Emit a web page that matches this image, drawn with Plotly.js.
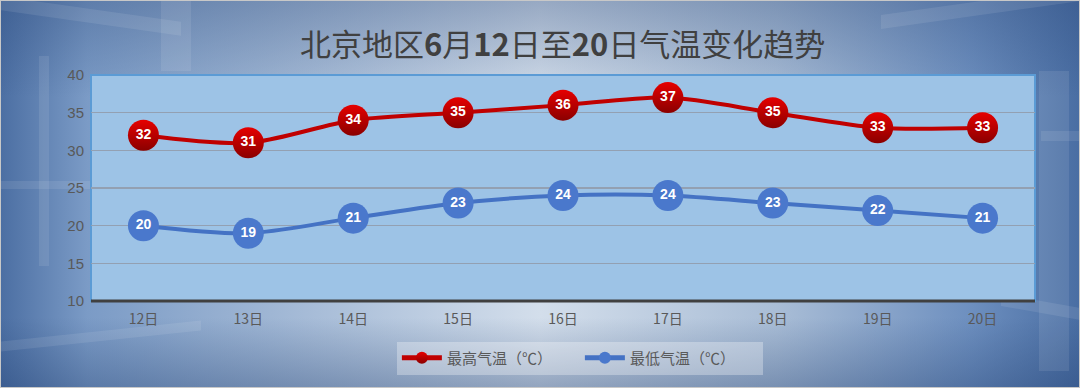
<!DOCTYPE html>
<html><head><meta charset="utf-8">
<script src="https://cdn.plot.ly/plotly-3.0.1.min.js"></script>
<style>
html,body{margin:0;padding:0;}
#wrap{position:relative;width:1078px;height:386px;border:1px solid #c8c8c8;overflow:hidden;
background:
 linear-gradient(180deg, rgba(40,70,120,0.35) 0%, rgba(255,255,255,0) 25%, rgba(255,255,255,0) 82%, rgba(30,60,110,0.35) 100%),
 linear-gradient(90deg,#4c6fa3 0%,#7b9bc6 8%,#9fb6d4 25%,#d3deeb 50%,#a9bdd6 72%,#6d8fbf 90%,#4a6ea3 100%);}
.d{position:absolute;background:rgba(255,255,255,0.09);}
#chart{position:absolute;left:0;top:0;width:1078px;height:386px;}
</style></head>
<body><div id="wrap">
<div class="d" style="left:0;top:8px;width:180px;height:14px;transform:skewY(8deg);"></div>
<div class="d" style="left:160px;top:0;width:30px;height:70px;"></div>
<div class="d" style="left:38px;top:55px;width:10px;height:210px;"></div>
<div class="d" style="left:0;top:180px;width:90px;height:8px;"></div>
<div class="d" style="left:0;top:330px;width:200px;height:10px;transform:skewY(-6deg);"></div>
<div class="d" style="left:1038px;top:70px;width:30px;height:300px;"></div>
<div class="d" style="left:1040px;top:130px;width:40px;height:10px;"></div>
<div class="d" style="left:880px;top:0px;width:200px;height:14px;transform:skewY(-8deg);"></div>
<div class="d" style="left:1000px;top:300px;width:80px;height:12px;transform:skewY(10deg);"></div>
<div id="chart"></div></div>
<script>
const days = ['12日','13日','14日','15日','16日','17日','18日','19日','20日'];
const highTemps = [32,31,34,35,36,37,35,33,33];
const lowTemps = [20,19,21,23,24,24,23,22,21];
const highName = '最高气温（℃）';
const lowName = '最低气温（℃）';

const font = '"Noto Sans CJK SC","Noto Sans",sans-serif';
const traces = [
 {x: days, y: highTemps, name: highName, type:'scatter', mode:'lines+markers+text',
  text: highTemps.map(String), textposition:'middle center',
  textfont:{color:'#ffffff', size:14, family:'"Liberation Sans",sans-serif', weight:'bold'},
  line:{color:'#c00000', width:4, shape:'spline', smoothing:0.8},
  marker:{size:31, color:'#e60000', gradient:{type:'vertical', color:'#8a0000'}, line:{width:0}}},
 {x: days, y: lowTemps, name: lowName, type:'scatter', mode:'lines+markers+text',
  text: lowTemps.map(String), textposition:'middle center',
  textfont:{color:'#ffffff', size:14, family:'"Liberation Sans",sans-serif', weight:'bold'},
  line:{color:'#4472c4', width:4, shape:'spline', smoothing:0.8},
  marker:{size:31, color:'#4a78cc', line:{width:0}}}
];

const shapes = [
 {type:'rect', xref:'paper', yref:'paper', x0:0, x1:1, y0:0, y1:1, fillcolor:'#9dc3e6', line:{color:'#5b9bd5', width:2}, layer:'below'},
 {type:'line', xref:'paper', yref:'paper', x0:0, x1:1, y0:0, y1:0, line:{color:'#404040', width:3}, layer:'above'}
];

const layout = {
 width:1078, height:386,
 margin:{l:90, r:44, t:74, b:86},
 paper_bgcolor:'rgba(0,0,0,0)', plot_bgcolor:'rgba(0,0,0,0)',
 title:{text:'北京地区<b>6</b>月<b>12</b>日至<b>20</b>日气温变化趋势', x:0.521, xref:'container', y:0.885, yref:'container', yanchor:'middle',
  font:{family:font, size:31, color:'#404040'}},
 xaxis:{type:'category', range:[-0.5,8.5], showgrid:false, zeroline:false, showline:false,
  tickfont:{family:font, size:14, color:'#595959'}, ticks:'', ticklabelstandoff:8},
 yaxis:{range:[10,40], dtick:5, showgrid:true, gridcolor:'#93a0b2', gridwidth:1.5, zeroline:false, showline:false,
  tickfont:{family:'"Liberation Sans",sans-serif', size:15, color:'#595959'}, ticks:'', ticklabelstandoff:6},
 shapes: shapes,
 showlegend:true,
 legend:{orientation:'h', xref:'container', yref:'container', x:0.537, xanchor:'center', y:0.075, yanchor:'middle',
  bgcolor:'rgba(255,255,255,0.3)', font:{family:font, size:15, color:'#595959'}, entrywidth:128, itemwidth:40, itemsizing:'constant'}
};
Plotly.newPlot('chart', traces, layout, {displayModeBar:false, staticPlot:true});
</script></body></html>
